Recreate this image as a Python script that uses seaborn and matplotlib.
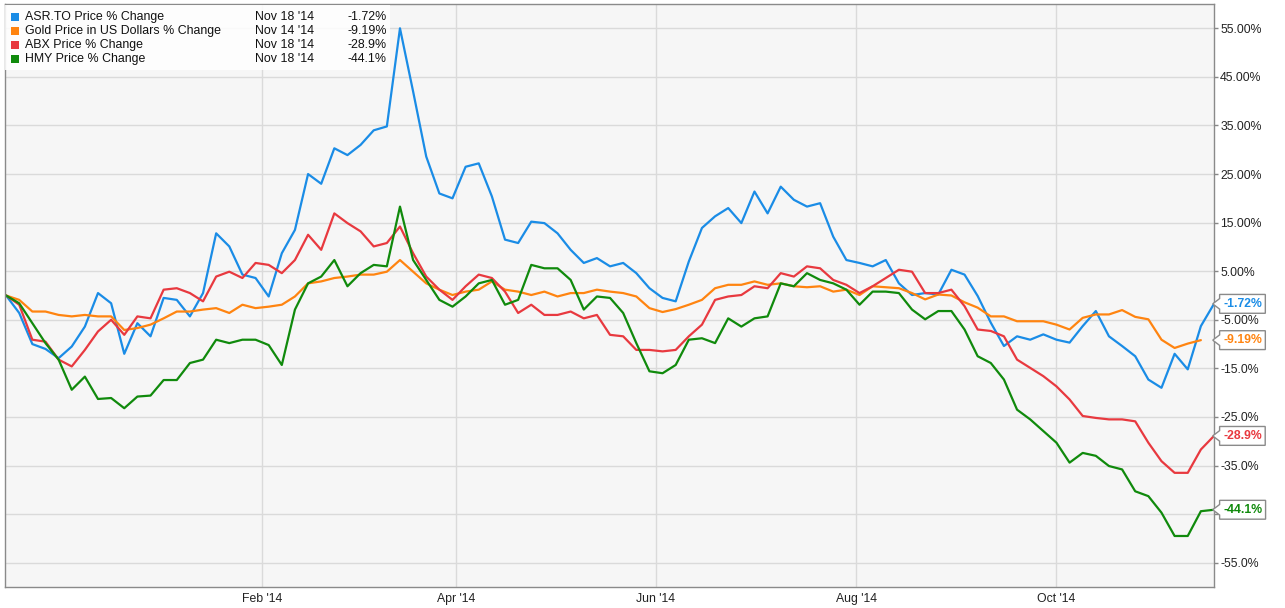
import numpy as np
import pandas as pd
import matplotlib
matplotlib.use("Agg")
import matplotlib.pyplot as plt
import matplotlib.patches as mpatches
from matplotlib.path import Path
import seaborn as sns

# sampling dates (every 4 days, Nov 15 '13 -> Nov 18 '14)
dates = pd.date_range("2013-11-15", periods=93, freq="4D")

series_names = ["ASR.TO Price % Change", "Gold Price in US Dollars % Change",
                "ABX Price % Change", "HMY Price % Change"]
series_colors = ["#1a8ce6", "#ff8410", "#e8393f", "#108a0c"]
last_dates = ["Nov 18 '14", "Nov 14 '14", "Nov 18 '14", "Nov 18 '14"]
last_labels = ["-1.72%", "-9.19%", "-28.9%", "-44.1%"]

asr = [0, -3.6, -10, -11, -12.9, -10.5, -6.4, 0.5, -1.6, -12,
       -5.7, -8.4, -0.5, -0.9, -4.3, 0.5, 12.8, 10.1, 4.3, 3.6,
       -0.2, 8.7, 13.5, 25, 23, 30.3, 28.9, 31, 34, 34.8,
       55, 42, 28.6, 21, 20, 26.5, 27.2, 20.4, 11.5, 10.8,
       15.2, 14.9, 12.8, 9.4, 6.7, 7.7, 6, 6.7, 4.6, 1.5,
       -0.5, -1.2, 7, 13.9, 16.3, 18, 14.9, 21.4, 16.9, 22.4,
       19.7, 18.3, 19, 12.1, 7.3, 6.7, 6, 7.3, 2.5, 0.1,
       0.5, 0.2, 5.3, 4.3, -0.1, -5.6, -10.4, -8.4, -9.1, -8,
       -9.1, -9.7, -6.3, -3.2, -8.4, -10.4, -12.5, -17.3, -19, -12,
       -15.2, -6.3, -1.72]

gold = [0, -0.9, -3.3, -3.3, -4, -4.3, -4, -4.3, -4.3, -7.1,
        -6.7, -6, -4.7, -3.3, -3.3, -2.9, -2.6, -3.6, -1.9, -2.6,
        -2.3, -1.9, -0.2, 2.5, 2.9, 3.6, 3.9, 4.3, 4.3, 4.9,
        7.3, 4.9, 2.5, 1.2, 0.1, 0.8, 1.2, 2.9, 1.2, 0.8,
        0.1, 0.8, -0.2, 0.5, 0.5, 1.2, 0.8, 0.5, -0.2, -2.6,
        -3.4, -2.8, -1.9, -0.9, 1.5, 2.2, 2.2, 2.9, 2.2, 2.5,
        1.9, 1.7, 1.9, 0.8, 1.2, 0.1, 1.9, 1.7, 1.5, 0.5,
        -0.8, 0.2, 0, -1.4, -2.5, -4.3, -4.3, -5.3, -5.3, -5.3,
        -6, -7, -4.6, -3.9, -3.9, -3, -4.4, -4.9, -9.1, -10.8,
        -9.9, -9.19, np.nan]

abx = [0, -1.9, -9.1, -9.5, -13.2, -14.6, -11.2, -7.4, -5, -8.1,
       -4.3, -4.7, 1.2, 1.5, 0.5, -1.2, 3.9, 4.9, 3.6, 6.7,
       6.3, 4.6, 7.3, 12.5, 9.4, 16.9, 14.9, 13.2, 10.1, 10.8,
       14.2, 8.7, 3.9, 1.2, -0.9, 1.9, 4.3, 3.6, 0.8, -3.6,
       -1.9, -4, -4, -3.3, -4.7, -4, -8.1, -8.4, -11.2, -11.2,
       -11.5, -11.2, -8.4, -6, -0.9, -0.2, 0.1, 1.9, 1.5, 4.6,
       3.9, 6, 5.6, 3.2, 2.2, 0.5, 1.9, 3.6, 5.3, 4.9,
       0.5, 0.5, 1.2, -2.2, -7, -7.3, -8.4, -13.2, -14.9, -16.6,
       -18.7, -21.4, -24.8, -25.2, -25.5, -25.5, -25.9, -30.3, -34.1, -36.5,
       -36.5, -31.7, -28.9]

hmy = [0, -1.6, -5.7, -9.8, -13.2, -19.4, -16.7, -21.3, -21.1, -23.2,
       -20.8, -20.6, -17.4, -17.4, -13.9, -13.2, -9.1, -9.8, -9.1, -9.1,
       -10.2, -14.3, -2.9, 2.5, 3.9, 7.3, 1.9, 4.6, 6.3, 6,
       18.3, 7.3, 3.2, -0.9, -2.3, -0.2, 2.5, 3.2, -1.9, -0.9,
       6.3, 5.6, 5.6, 3.2, -2.9, -0.2, -0.5, -3.6, -9.8, -15.6,
       -16, -14.3, -9.1, -8.8, -9.8, -4.7, -6.4, -4.7, -4.3, 2.5,
       1.9, 4.6, 3.2, 2.5, 1.2, -1.9, 0.8, 0.8, 0.5, -2.9,
       -4.9, -3.2, -3.2, -7, -12.5, -13.9, -17.3, -23.5, -25.5, -27.9,
       -30.3, -34.4, -32.4, -33, -35.1, -35.8, -40.3, -41.3, -44.7, -49.5,
       -49.5, -44.4, -44.1]

y_ticks = [55, 45, 35, 25, 15, 5, -5, -15, -25, -35, -45, -55]
y_tick_labels = ["55.00%", "45.00%", "35.00%", "25.00%", "15.00%", "5.00%",
                 "-5.00%", "-15.0%", "-25.0%", "-35.0%", "", "-55.0%"]
x_ticks = pd.to_datetime(["2014-02-01", "2014-04-01", "2014-06-01", "2014-08-01", "2014-10-01"])
x_tick_labels = ["Feb '14", "Apr '14", "Jun '14", "Aug '14", "Oct '14"]

all_values = [asr, gold, abx, hmy]
df = pd.concat([pd.DataFrame({"date": dates, "value": v, "series": n})
                for n, v in zip(series_names, all_values)], ignore_index=True)

sns.set_style("white")
plt.rcParams["font.family"] = ["Liberation Sans", "DejaVu Sans"]

W, H = 1285, 608
fig = plt.figure(figsize=(W / 100, H / 100), dpi=100)
ax = fig.add_axes([5 / W, 21 / H, 1209 / W, 583 / H])
ax.set_facecolor("#f6f6f6")

sns.lineplot(data=df, x="date", y="value", hue="series", hue_order=series_names,
             palette=dict(zip(series_names, series_colors)), linewidth=1.6,
             legend=False, ax=ax)

ax.set_xlim(dates[0] - pd.Timedelta(hours=8), dates[-1])
ax.set_ylim(-60, 60)
ax.set_xlabel("")
ax.set_ylabel("")

ax.set_xticks(x_ticks)
ax.set_xticklabels(x_tick_labels, fontsize=8.8, color="#222222")
ax.set_yticks(y_ticks)
ax.set_yticklabels(y_tick_labels, fontsize=8.8, color="#222222")
ax.yaxis.tick_right()
ax.tick_params(axis="x", length=0, pad=4)
ax.tick_params(axis="y", length=3, width=1, color="#888888", pad=1.5)
ax.grid(True, color="#dadada", linewidth=1)
ax.set_axisbelow(True)
for sp in ax.spines.values():
    sp.set_color("#8a8a8a")
    sp.set_linewidth(1)


# rectangle tag with a small notch pointing left
def tag_box(x0, y0, width, height, mutation_size):
    pad = mutation_size * 0.28
    x0, y0 = x0 - pad, y0 - pad
    x1, y1 = x0 + width + 2 * pad, y0 + height + 2 * pad
    ym = (y0 + y1) / 2
    n = (y1 - y0) * 0.28
    verts = [(x0, y0), (x1, y0), (x1, y1), (x0, y1), (x0, ym + n),
             (x0 - n * 1.3, ym), (x0, ym - n), (x0, y0)]
    return Path(verts, closed=True)


for vals, lab, col in zip(all_values, last_labels, series_colors):
    last = [v for v in vals if not np.isnan(v)][-1]
    ax.annotate(lab, xy=(1.0, last), xycoords=("axes fraction", "data"),
                xytext=(6.5, 0), textcoords="offset points", ha="left", va="center",
                fontsize=8.8, fontweight="bold", color=col, annotation_clip=False,
                bbox=dict(boxstyle=tag_box, fc="white", ec="#8a8a8a", lw=1))

# legend box
def px(x, y):
    return x / W, 1 - y / H

lx, ly = px(5, 70)
fig.patches.append(mpatches.Rectangle((lx, ly), 385 / W, 65 / H, transform=fig.transFigure,
                                      fc="white", ec="none", alpha=0.85, zorder=5))
for i, (n, c, d, lab) in enumerate(zip(series_names, series_colors, last_dates, last_labels)):
    yy = 16.8 + 14 * i
    sx, sy = px(11, yy + 4)
    fig.patches.append(mpatches.Rectangle((sx, sy), 8 / W, 8 / H, transform=fig.transFigure,
                                          fc=c, ec="none", zorder=6))
    fig.text(*px(25, yy), n, fontsize=8.9, va="center", ha="left", color="#111111", zorder=7)
    fig.text(*px(255, yy), d, fontsize=8.9, va="center", ha="left", color="#111111", zorder=7)
    fig.text(*px(387, yy), lab, fontsize=8.9, va="center", ha="right", color="#111111", zorder=7)

fig.savefig("out.png", dpi=100)
